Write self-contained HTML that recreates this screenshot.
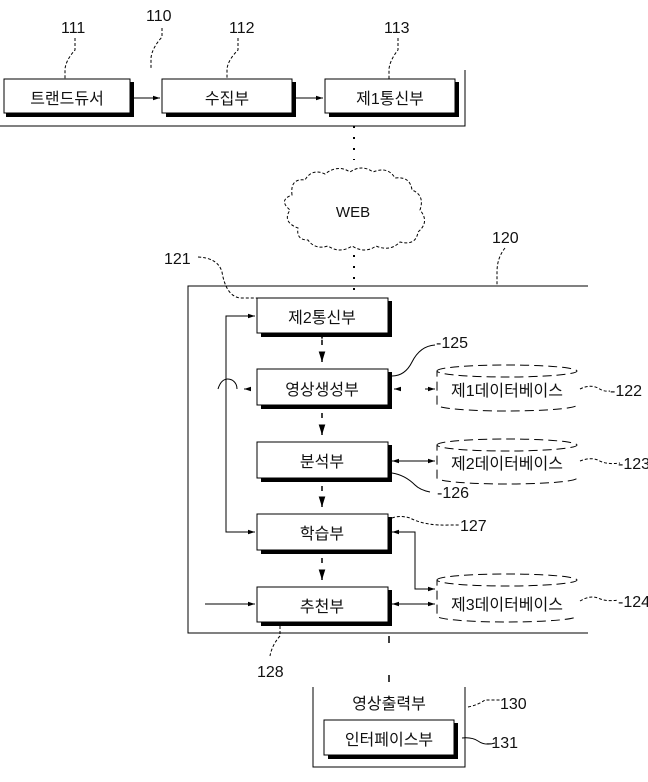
<!DOCTYPE html>
<html><head><meta charset="utf-8"><style>
html,body{margin:0;padding:0;background:#fff}
svg text{font-family:"Liberation Sans","Noto Sans CJK KR",sans-serif;fill:#111}
</style></head><body>
<svg width="648" height="777" viewBox="0 0 648 777" xmlns="http://www.w3.org/2000/svg">
<defs><marker id="a" markerWidth="8" markerHeight="6" refX="7" refY="3" orient="auto"><path d="M0,0.8 L7,3 L0,5.2z" fill="#000"/></marker></defs>
<g stroke="#000" fill="none" stroke-width="1">
<path d="M0,126 H465 V70"/>
<rect x="4" y="79" width="126" height="34" fill="#fff"/>
<path d="M6,115 H132 V82" stroke-width="4"/>
<rect x="162" y="79" width="130" height="34" fill="#fff"/>
<path d="M166,115 H294 V82" stroke-width="4"/>
<rect x="325" y="79" width="130" height="34" fill="#fff"/>
<path d="M329,115 H457 V82" stroke-width="4"/>
<line x1="134" y1="98" x2="160" y2="98" marker-end="url(#a)"/>
<line x1="296" y1="98" x2="323" y2="98" marker-end="url(#a)"/>
<g stroke-dasharray="3,2">
<path d="M75,38 V50 Q66,60 65,69 V79"/>
<path d="M162,28 V37 Q152,48 151,58 V68"/>
<path d="M238,38 V50 Q228,60 227,69 V79"/>
<path d="M398,38 V50 Q390,60 389,69 V79"/>
</g>
<g stroke-width="2" stroke-dasharray="2,9">
<line x1="354" y1="126" x2="354" y2="160"/>
<line x1="354" y1="255" x2="354" y2="292"/>
</g>
<g stroke-width="1.5">
<line x1="322" y1="340" x2="322" y2="345" marker-start="url(#a)"/><line x1="322" y1="355" x2="322" y2="362" marker-end="url(#a)"/>
<line x1="322" y1="413" x2="322" y2="418" /><line x1="322" y1="428" x2="322" y2="435" marker-end="url(#a)"/>
<line x1="322" y1="486" x2="322" y2="491" /><line x1="322" y1="500" x2="322" y2="507" marker-end="url(#a)"/>
<line x1="322" y1="558" x2="322" y2="563" /><line x1="322" y1="573" x2="322" y2="580" marker-end="url(#a)"/>
<line x1="389" y1="636" x2="389" y2="643" /><line x1="389" y1="675" x2="389" y2="682" />
</g>
<path stroke-dasharray="3,2" d="M292,195 Q290,178 305,180 Q312,168 325,174 Q338,164 350,172 Q362,164 373,172 Q388,166 395,178 Q410,176 412,190 Q425,195 420,210 Q430,222 418,232 Q416,246 400,242 Q390,252 376,246 Q365,254 352,246 Q340,254 328,246 Q315,250 308,240 Q296,240 298,228 Q282,222 290,210 Q278,200 292,195z"/>
<path d="M588,286 H188 V633 H588"/>
<path stroke-dasharray="3,2" d="M505,248 Q497,258 497,272 V286"/>
<path stroke-dasharray="3,2" d="M198,257 Q218,258 222,272 Q226,296 240,298 H257"/>
<rect x="257" y="298" width="131" height="35" fill="#fff"/>
<path d="M261,335 H390 V301" stroke-width="4"/>
<rect x="257" y="369" width="131" height="36" fill="#fff"/>
<path d="M261,407 H390 V372" stroke-width="4"/>
<rect x="257" y="442" width="131" height="36" fill="#fff"/>
<path d="M261,480 H390 V445" stroke-width="4"/>
<rect x="257" y="514" width="131" height="36" fill="#fff"/>
<path d="M261,552 H390 V517" stroke-width="4"/>
<rect x="257" y="587" width="131" height="35" fill="#fff"/>
<path d="M261,624 H390 V590" stroke-width="4"/>
<path d="M255,316 H226 V532 H255" />
<path d="M228,316 H255" marker-end="url(#a)"/>
<path d="M228,532 H255" marker-end="url(#a)"/>
<path d="M218,389 Q222,376 232,380 Q237,383 237,389"/>
<line x1="250" y1="389" x2="244" y2="389" marker-end="url(#a)"/>
<line x1="205" y1="604" x2="255" y2="604" marker-end="url(#a)"/>
<line x1="398" y1="389" x2="394" y2="389" marker-end="url(#a)"/>
<line x1="425" y1="389" x2="435" y2="389" marker-end="url(#a)"/>
<line x1="400" y1="461" x2="392" y2="461" marker-end="url(#a)"/>
<line x1="400" y1="461" x2="435" y2="461" marker-end="url(#a)"/>
<line x1="400" y1="604" x2="392" y2="604" marker-end="url(#a)"/>
<line x1="400" y1="604" x2="435" y2="604" marker-end="url(#a)"/>
<path d="M392,532 H415 V589 H435" marker-end="url(#a)"/>
<line x1="400" y1="532" x2="392" y2="532" marker-end="url(#a)"/>
<g stroke-dasharray="9,5">
<path d="M437,371 A70,6 0 0 1 577,371 A70,6 0 0 1 437,371 V405 A70,6 0 0 0 577,405"/>
<path d="M437,445 A70,6 0 0 1 577,445 A70,6 0 0 1 437,445 V478 A70,6 0 0 0 577,478"/>
<path d="M437,580 A70,6 0 0 1 577,580 A70,6 0 0 1 437,580 V616 A70,6 0 0 0 577,616"/>
</g>
<path d="M392,376 Q405,376 412,362 Q420,346 435,345"/>
<path d="M392,473 Q405,475 415,485 Q420,490 430,492"/>
<path stroke-dasharray="3,2" d="M392,518 Q400,515 410,518 Q425,526 450,525 H460"/>
<path stroke-dasharray="3,2" d="M580,389 Q590,384 598,388 Q604,392 610,391"/>
<path stroke-dasharray="3,2" d="M580,461 Q590,457 598,460 Q606,465 620,463"/>
<path stroke-dasharray="3,2" d="M580,601 Q590,595 598,598 Q606,602 618,600"/>
<path stroke-dasharray="3,2" d="M280,626 V636 Q272,645 270,656"/>
<path d="M313,687 V767 H465 V687"/>
<rect x="324" y="720" width="130" height="35" fill="#fff"/>
<path d="M328,757 H456 V723" stroke-width="4"/>
<path stroke-dasharray="3,2" d="M468,707 Q478,705 485,700 H500"/>
<path d="M462,738 Q472,737 478,741 Q485,746 495,743"/>
</g>
<g font-size="16" text-anchor="middle">
<text x="67" y="104">트랜드듀서</text>
<text x="227" y="104">수집부</text>
<text x="390" y="104">제1통신부</text>
<text x="322" y="323">제2통신부</text>
<text x="322" y="395">영상생성부</text>
<text x="322" y="467">분석부</text>
<text x="322" y="539">학습부</text>
<text x="322" y="612">추천부</text>
<text x="507" y="396">제1데이터베이스</text>
<text x="507" y="469">제2데이터베이스</text>
<text x="507" y="610">제3데이터베이스</text>
<text x="389" y="709">영상출력부</text>
<text x="389" y="745">인터페이스부</text>
<text x="353" y="217" font-size="15">WEB</text>
</g>
<g font-size="16" text-anchor="start">
<text x="61" y="33">111</text>
<text x="146" y="21">110</text>
<text x="229" y="33">112</text>
<text x="384" y="33">113</text>
<text x="164" y="264">121</text>
<text x="492" y="243">120</text>
<text x="436" y="348">-125</text>
<text x="610" y="396">-122</text>
<text x="618" y="469">-123</text>
<text x="437" y="498">-126</text>
<text x="460" y="531">127</text>
<text x="618" y="607">-124</text>
<text x="257" y="677">128</text>
<text x="500" y="709">130</text>
<text x="486" y="748">-131</text>
</g>
</svg>
</body></html>
